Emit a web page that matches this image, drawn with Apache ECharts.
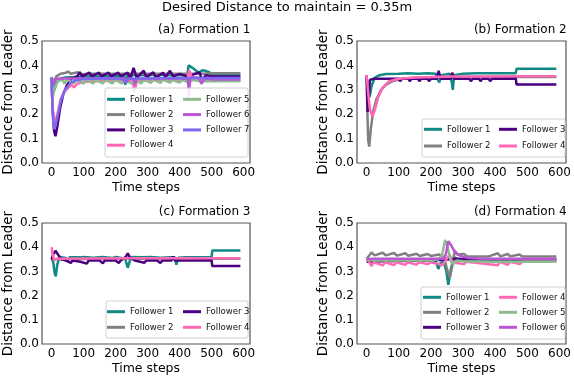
<!DOCTYPE html>
<html>
<head>
<meta charset="utf-8">
<script src="https://cdn.jsdelivr.net/npm/echarts@6/dist/echarts.min.js"></script>
<style>
  html, body { margin: 0; padding: 0; background: #fff; }
  #chart { width: 574px; height: 380px; }
</style>
</head>
<body>
<div id="chart"></div>
<script>
const followerNames = ['Follower 1', 'Follower 2', 'Follower 3', 'Follower 4', 'Follower 5', 'Follower 6', 'Follower 7']
const followerColors = ['#108a84', '#808080', '#4b0082', '#ff69b4', '#8fbc8f', '#ba55d3', '#7b68ee']
const panelTitles = ['(a) Formation 1', '(b) Formation 2', '(c) Formation 3', '(d) Formation 4']
const xTicks = [0, 100, 200, 300, 400, 500, 600]
const yTicks = [0, 0.1, 0.2, 0.3, 0.4, 0.5]

// (a) Formation 1
const a1 = [[0,0.35],[4,0.33],[9,0.30],[16,0.33],[25,0.345],[40,0.35],[70,0.352],[100,0.355],[150,0.355],[200,0.356],[226,0.356],[230,0.32],[236,0.362],[270,0.36],[300,0.36],[330,0.362],[360,0.36],[390,0.36],[424,0.36],[428,0.40],[440,0.39],[455,0.375],[462,0.37],[470,0.38],[480,0.378],[495,0.37],[505,0.362],[590,0.362]]
const a2 = [[0,0.35],[5,0.33],[15,0.355],[28,0.366],[45,0.37],[52,0.375],[60,0.366],[82,0.372],[90,0.364],[120,0.366],[160,0.366],[200,0.366],[240,0.366],[280,0.366],[320,0.366],[360,0.366],[400,0.366],[430,0.366],[470,0.366],[510,0.368],[590,0.368]]
const a3 = [[0,0.35],[3,0.22],[8,0.13],[12,0.11],[18,0.15],[26,0.22],[36,0.28],[48,0.32],[62,0.345],[80,0.355],[88,0.372],[96,0.355],[118,0.37],[126,0.355],[148,0.37],[156,0.355],[178,0.37],[186,0.355],[208,0.37],[216,0.355],[238,0.37],[246,0.345],[256,0.39],[266,0.35],[288,0.378],[296,0.352],[318,0.372],[326,0.35],[348,0.37],[356,0.352],[370,0.378],[380,0.355],[400,0.365],[424,0.355],[430,0.33],[438,0.36],[462,0.372],[470,0.34],[482,0.36],[505,0.355],[590,0.355]]
const a4 = [[0,0.31],[4,0.22],[10,0.16],[18,0.2],[28,0.26],[38,0.29],[50,0.305],[62,0.32],[70,0.31],[80,0.325],[100,0.332],[130,0.335],[160,0.336],[200,0.338],[230,0.34],[254,0.335],[259,0.29],[266,0.335],[300,0.338],[340,0.34],[380,0.34],[424,0.34],[430,0.38],[438,0.35],[460,0.345],[480,0.34],[590,0.34]]
const a5 = [[0,0.35],[4,0.27],[10,0.31],[20,0.335],[35,0.342],[40,0.325],[48,0.342],[70,0.326],[78,0.342],[100,0.325],[108,0.342],[130,0.326],[138,0.342],[160,0.326],[168,0.342],[190,0.326],[198,0.342],[220,0.326],[228,0.342],[250,0.325],[258,0.342],[280,0.326],[288,0.342],[310,0.328],[318,0.342],[340,0.328],[348,0.342],[370,0.33],[378,0.34],[400,0.33],[408,0.34],[430,0.33],[438,0.34],[470,0.335],[590,0.335]]
const a6 = [[0,0.35],[5,0.32],[14,0.345],[40,0.346],[100,0.346],[150,0.346],[200,0.346],[228,0.346],[234,0.33],[242,0.345],[256,0.345],[260,0.32],[266,0.345],[300,0.346],[350,0.346],[400,0.346],[426,0.346],[429,0.27],[433,0.35],[460,0.35],[468,0.325],[478,0.345],[510,0.342],[590,0.342]]
const a7 = [[0,0.35],[3,0.22],[7,0.14],[12,0.15],[20,0.2],[30,0.26],[42,0.3],[60,0.33],[80,0.34],[110,0.345],[160,0.346],[220,0.346],[230,0.33],[238,0.345],[300,0.346],[360,0.347],[420,0.347],[470,0.348],[590,0.348]]

// (b) Formation 2
const b1 = [[0,0.35],[4,0.3],[9,0.27],[16,0.32],[26,0.35],[40,0.36],[60,0.365],[100,0.366],[130,0.368],[160,0.366],[190,0.368],[215,0.366],[222,0.34],[226,0.33],[232,0.36],[258,0.366],[265,0.33],[268,0.30],[272,0.36],[300,0.366],[340,0.368],[380,0.368],[420,0.368],[464,0.368],[466,0.386],[590,0.386]]
const b2 = [[0,0.35],[2,0.22],[5,0.09],[8,0.067],[13,0.14],[20,0.21],[30,0.26],[45,0.3],[60,0.32],[80,0.335],[110,0.345],[160,0.35],[250,0.352],[350,0.352],[460,0.352],[590,0.352]]
const b3 = [[0,0.36],[3,0.21],[6,0.25],[10,0.34],[20,0.345],[40,0.345],[100,0.345],[104,0.335],[110,0.345],[130,0.345],[134,0.335],[140,0.345],[160,0.345],[164,0.335],[170,0.345],[190,0.345],[194,0.335],[200,0.345],[218,0.345],[224,0.378],[230,0.345],[262,0.345],[266,0.37],[272,0.345],[320,0.345],[324,0.335],[330,0.345],[350,0.345],[354,0.335],[360,0.345],[380,0.345],[384,0.335],[390,0.345],[464,0.346],[466,0.322],[590,0.322]]
const b4 = [[0,0.36],[4,0.3],[10,0.22],[18,0.19],[26,0.22],[36,0.27],[50,0.31],[70,0.335],[100,0.345],[150,0.35],[200,0.352],[260,0.354],[266,0.36],[275,0.354],[350,0.355],[460,0.356],[590,0.356]]

// (c) Formation 3
const c1 = [[0,0.35],[5,0.34],[10,0.29],[13,0.28],[18,0.33],[25,0.36],[45,0.355],[50,0.34],[56,0.358],[90,0.358],[100,0.36],[130,0.356],[160,0.36],[190,0.355],[200,0.36],[230,0.352],[238,0.315],[246,0.35],[252,0.36],[280,0.358],[310,0.36],[340,0.356],[370,0.358],[385,0.358],[390,0.328],[395,0.356],[420,0.358],[500,0.36],[502,0.386],[590,0.386]]
const c2 = [[0,0.35],[20,0.35],[200,0.352],[400,0.352],[590,0.352]]
const c3 = [[0,0.35],[5,0.37],[12,0.385],[20,0.37],[30,0.35],[45,0.345],[60,0.335],[66,0.345],[90,0.34],[110,0.332],[116,0.345],[150,0.345],[160,0.333],[166,0.345],[200,0.345],[210,0.335],[216,0.345],[232,0.36],[238,0.375],[246,0.355],[260,0.345],[290,0.336],[296,0.345],[330,0.345],[340,0.335],[346,0.345],[375,0.345],[380,0.362],[385,0.345],[420,0.345],[500,0.346],[502,0.322],[590,0.322]]
const c4 = [[0,0.40],[3,0.37],[8,0.348],[15,0.352],[100,0.353],[250,0.354],[400,0.354],[590,0.354]]

// (d) Formation 4
const d1 = [[0,0.35],[40,0.35],[100,0.35],[160,0.35],[210,0.35],[218,0.33],[223,0.31],[230,0.335],[240,0.34],[248,0.3],[254,0.245],[262,0.31],[272,0.36],[282,0.35],[300,0.348],[350,0.346],[450,0.346],[590,0.346]]
const d2 = [[0,0.35],[8,0.366],[15,0.378],[25,0.366],[50,0.377],[60,0.366],[85,0.376],[95,0.365],[120,0.375],[130,0.365],[155,0.373],[165,0.364],[190,0.372],[200,0.364],[225,0.37],[240,0.36],[252,0.3],[259,0.275],[266,0.32],[274,0.385],[282,0.37],[303,0.372],[312,0.363],[380,0.362],[408,0.375],[416,0.362],[439,0.372],[446,0.362],[476,0.37],[484,0.362],[590,0.362]]
const d3 = [[0,0.34],[50,0.342],[100,0.343],[150,0.344],[200,0.345],[240,0.348],[260,0.35],[282,0.352],[350,0.35],[590,0.35]]
const d4 = [[0,0.35],[8,0.34],[15,0.322],[22,0.338],[50,0.325],[58,0.338],[85,0.326],[93,0.338],[120,0.327],[128,0.338],[155,0.328],[163,0.338],[190,0.33],[198,0.338],[225,0.33],[235,0.325],[248,0.35],[258,0.37],[266,0.34],[280,0.335],[303,0.33],[310,0.34],[408,0.325],[414,0.34],[439,0.327],[446,0.34],[476,0.33],[484,0.34],[590,0.34]]
const d5 = [[0,0.35],[20,0.345],[100,0.345],[200,0.345],[225,0.35],[235,0.37],[244,0.43],[252,0.4],[262,0.34],[270,0.33],[280,0.345],[300,0.342],[400,0.34],[590,0.34]]
const d6 = [[0,0.35],[20,0.352],[100,0.352],[200,0.352],[240,0.352],[246,0.37],[254,0.425],[262,0.41],[272,0.385],[285,0.368],[300,0.36],[320,0.355],[360,0.352],[590,0.352]]

const panelData = [
  [a1, a2, a3, a4, a5, a6, a7],
  [b1, b2, b3, b4],
  [c1, c2, c3, c4],
  [d1, d2, d3, d4, d5, d6]
]

const font = 'DejaVu Sans'
const grids = [
  { left: 40, top: 41, width: 210, height: 122 },
  { left: 357, top: 41, width: 210, height: 122 },
  { left: 40, top: 223, width: 210, height: 121 },
  { left: 357, top: 223, width: 210, height: 121 }
]
// legend columns: [left, top, itemGap, names]
const legendCols = [
  [107, 93.3, 3.3, 0, 4], [183, 93.3, 3.3, 4, 7],
  [424, 123.3, 4.7, 0, 2], [499, 123.3, 4.7, 2, 4],
  [107, 305.7, 3.6, 0, 2], [183, 305.7, 3.6, 2, 4],
  [423, 291.3, 3, 0, 3], [499, 291.3, 3, 3, 6]
]
const legendBoxes = [
  [105, 88, 143, 69], [422, 119, 143, 38], [106, 301, 142, 37], [421, 287, 144, 52]
]
const titleRights = [323.5, 7.3, 323.5, 7.3]
const titleTops = [24, 24, 206, 206]

const series = []
panelData.forEach((list, p) => {
  list.forEach((d, i) => {
    series.push({
      name: followerNames[i],
      type: 'line',
      xAxisIndex: p,
      yAxisIndex: p,
      data: d,
      showSymbol: false,
      symbol: 'none',
      color: followerColors[i],
      lineStyle: { width: 2.5, color: followerColors[i] },
      animation: false
    })
  })
})

const option = {
  backgroundColor: '#fff',
  animation: false,
  textStyle: { fontFamily: font },
  title: [
    { text: 'Desired Distance to maintain = 0.35m', left: 'center', top: 1, padding: 0,
      textStyle: { fontFamily: font, fontSize: 13, fontWeight: 'normal', color: '#000' } }
  ].concat(panelTitles.map((t, i) => ({
    text: t, right: titleRights[i], top: titleTops[i], padding: 0,
    textStyle: { fontFamily: font, fontSize: 12, fontWeight: 'normal', color: '#000' }
  }))),
  grid: grids.map(g => Object.assign({ show: true, borderColor: '#555', borderWidth: 1.2, backgroundColor: 'transparent' }, g)),
  xAxis: grids.map((g, i) => ({
    type: 'value', gridIndex: i, min: -30, max: 620,
    name: 'Time steps', nameLocation: 'middle', nameGap: 18,
    nameTextStyle: { fontFamily: font, fontSize: 12.5, color: '#000' },
    axisLine: { show: false }, axisTick: { show: false }, splitLine: { show: false },
    axisLabel: { customValues: xTicks, margin: 4, fontFamily: font, fontSize: 12, color: '#000' }
  })),
  yAxis: grids.map((g, i) => ({
    type: 'value', gridIndex: i, min: 0, max: 0.5,
    name: 'Distance from Leader', nameLocation: 'middle', nameGap: 27,
    nameTextStyle: { fontFamily: font, fontSize: 13.5, color: '#000' },
    axisLine: { show: false }, axisTick: { show: false }, splitLine: { show: false },
    axisLabel: { customValues: yTicks, margin: 3, fontFamily: font, fontSize: 12, color: '#000',
      formatter: v => v.toFixed(1) }
  })),
  legend: legendCols.map(c => ({
    orient: 'vertical', left: c[0], top: c[1], itemGap: c[2], padding: 0,
    data: followerNames.slice(c[3], c[4]),
    icon: 'rect', itemWidth: 18, itemHeight: 3, selectedMode: false, z: 10,
    textStyle: { fontFamily: font, fontSize: 8.5, lineHeight: 12, color: '#111' }
  })),
  graphic: legendBoxes.map(b => ({
    type: 'rect', z: 5, silent: true,
    shape: { x: b[0], y: b[1], width: b[2], height: b[3], r: 2 },
    style: { fill: 'rgba(255,255,255,0.85)', stroke: '#d0d0d0', lineWidth: 1 }
  })),
  series: series
}

const myChart = echarts.init(document.getElementById('chart'), null, { renderer: 'canvas' })
myChart.setOption(option)
</script>
</body>
</html>
